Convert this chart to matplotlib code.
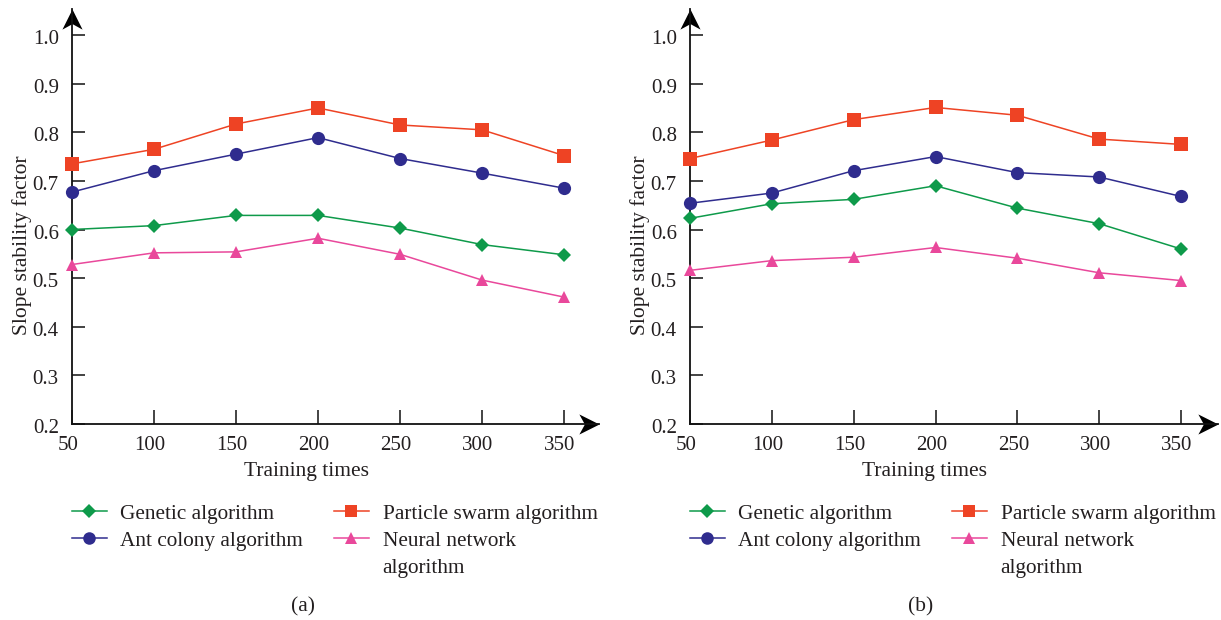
import matplotlib
matplotlib.use("Agg")
import matplotlib.pyplot as plt
from matplotlib.lines import Line2D
from matplotlib.path import Path
import matplotlib.transforms as mtransforms

plt.rcParams['font.family'] = ['Liberation Serif', 'DejaVu Serif']

training_times = [50, 100, 150, 200, 250, 300, 350]
y_ticks = [0.2, 0.3, 0.4, 0.5, 0.6, 0.7, 0.8, 0.9, 1.0]

# panel (a)
a_genetic = [0.600, 0.608, 0.629, 0.629, 0.603, 0.569, 0.548]
a_ant = [0.677, 0.721, 0.755, 0.789, 0.746, 0.716, 0.685]
a_particle = [0.735, 0.765, 0.817, 0.850, 0.815, 0.805, 0.752]
a_neural = [0.528, 0.552, 0.554, 0.582, 0.549, 0.496, 0.461]

# panel (b)
b_genetic = [0.623, 0.653, 0.662, 0.690, 0.644, 0.612, 0.560]
b_ant = [0.654, 0.675, 0.721, 0.750, 0.717, 0.708, 0.668]
b_particle = [0.746, 0.784, 0.826, 0.851, 0.835, 0.786, 0.775]
b_neural = [0.516, 0.536, 0.543, 0.563, 0.541, 0.511, 0.495]

labels = ["Genetic algorithm", "Ant colony algorithm",
          "Particle swarm algorithm", "Neural network"]
label_cont = "algorithm"
colors = ["#0E9A4A", "#2F2C8E", "#EE4324", "#E9489B"]
markers = ["D", "o", "s", "^"]
msizes = [7, 9.5, 9.5, 9]
TXT = "#231F20"

right_arrow = Path([(0, 0), (-2, 1), (-1.45, 0), (-2, -1), (0, 0)],
                   [Path.MOVETO, Path.LINETO, Path.LINETO, Path.LINETO, Path.CLOSEPOLY])
up_arrow = Path([(0, 0), (-1, -2), (0, -1.45), (1, -2), (0, 0)],
                [Path.MOVETO, Path.LINETO, Path.LINETO, Path.LINETO, Path.CLOSEPOLY])

fig = plt.figure(figsize=(12.21, 6.2), dpi=100)
W, H = 1221.0, 620.0

panels = [
    (72, 599, 371.3, [a_genetic, a_ant, a_particle, a_neural], "(a)"),
    (690, 1218, 372.6, [b_genetic, b_ant, b_particle, b_neural], "(b)"),
]

for left_px, right_px, xmax, series, cap in panels:
    ax = fig.add_axes([left_px / W, (H - 424) / H, (right_px - left_px) / W, 415 / H])
    for vals, c, m, ms in zip(series, colors, markers, msizes):
        ax.plot(training_times, vals, color=c, marker=m, markersize=ms,
                linewidth=1.1, markeredgewidth=0, clip_on=False, zorder=3)
    ax.set_xlim(50, xmax)
    ax.set_ylim(0.2, 1.0535)
    ax.set_xticks(training_times)
    ax.set_yticks(y_ticks)
    ax.set_yticklabels([f"{v:.1f}" for v in y_ticks])
    for s in ["top", "right"]:
        ax.spines[s].set_visible(False)
    for s in ["left", "bottom"]:
        ax.spines[s].set_linewidth(1.3)
        ax.spines[s].set_color("#111111")
    ax.tick_params(axis="y", direction="in", length=9, width=1.1, pad=9.5,
                   labelsize=15, colors="#111111", labelcolor=TXT)
    ax.tick_params(axis="x", direction="in", length=10, width=1.1, pad=9,
                   labelsize=15, colors="#111111", labelcolor=TXT)
    xoff = mtransforms.ScaledTranslation(-4 / 100, 0, fig.dpi_scale_trans)
    for lab in ax.get_xticklabels():
        lab.set_transform(lab.get_transform() + xoff)
    yoff = mtransforms.ScaledTranslation(0, -2 / 100, fig.dpi_scale_trans)
    for lab in ax.get_yticklabels():
        lab.set_transform(lab.get_transform() + yoff)
    width_px = right_px - left_px
    ax.set_xlabel("Training times", fontsize=15.5, color=TXT)
    ax.xaxis.set_label_coords((306 - 72) / 527, -0.115)
    ax.xaxis.label.set_va("center")
    ax.set_ylabel("Slope stability factor", fontsize=15.5, color=TXT)
    ax.yaxis.set_label_coords(-50 / width_px, 0.431)
    ax.yaxis.label.set_va("center")
    # arrow heads
    ax.plot([1], [0], marker=right_arrow, markersize=29, color="black",
            markeredgewidth=0, transform=ax.transAxes, clip_on=False)
    ax.plot([0], [1], marker=up_arrow, markersize=29, color="black",
            markeredgewidth=0, transform=ax.transAxes, clip_on=False)

    handles = [Line2D([], [], color=c, marker=m, markersize=ms * 0.95,
                      markeredgewidth=0, linewidth=1.1)
               for c, m, ms in zip(colors, markers, msizes)]
    blank = Line2D([], [], linestyle="none")
    leg_handles = [handles[0], handles[1], blank, handles[2], handles[3], blank]
    leg_labels = [labels[0], labels[1], "", labels[2], labels[3], label_cont]
    leg = fig.legend(leg_handles, leg_labels, ncol=2, frameon=False, fontsize=15.3,
                     loc="upper left",
                     bbox_to_anchor=((left_px) / W, (H - 504) / H),
                     handlelength=1.63, handletextpad=0.65, columnspacing=1.45,
                     labelspacing=0.33, borderpad=0, borderaxespad=0)
    for t in leg.get_texts():
        t.set_color(TXT)
    fig.text((left_px + 231) / W, (H - 607) / H, cap, fontsize=15.5,
             ha="center", va="center", color=TXT)

fig.savefig("out.png", dpi=100)
